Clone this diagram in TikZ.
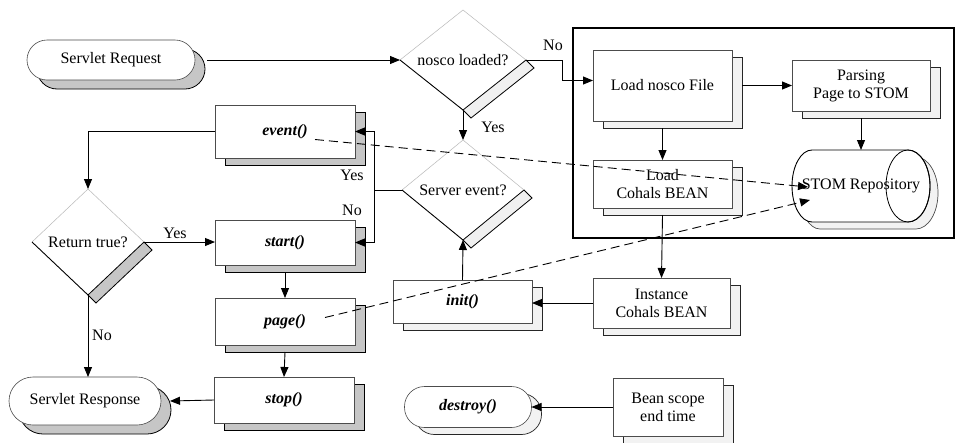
\documentclass[tikz,border=0pt]{standalone}
\usepackage{fontspec}
\setmainfont{Liberation Serif}
\usetikzlibrary{arrows.meta,shapes.geometric,shadows}

\begin{document}
\begin{tikzpicture}[x=1pt,y=-1pt,
  txt/.style={font=\fontsize{16}{18}\selectfont},
  meth/.style={font=\fontsize{16}{18}\selectfont\bfseries\itshape},
  box/.style={rectangle, draw=black!70, line width=0.6pt, fill=white,
    inner sep=0pt, outer sep=0pt, align=center},
  darkshadow/.style={drop shadow={shadow xshift=10pt, shadow yshift=-7pt,
    fill=gray!45, draw=black, line width=0.8pt, opacity=1}},
  termshadow/.style={drop shadow={shadow xshift=10pt, shadow yshift=-9pt,
    fill=gray!45, draw=black, line width=0.8pt, opacity=1}},
  lightshadow/.style={drop shadow={shadow xshift=10pt, shadow yshift=-7pt,
    fill=gray!10, draw=black!85, line width=0.7pt, opacity=1}},
  decision/.style={diamond, draw=none, inner sep=0pt, outer sep=0pt,
    font=\fontsize{16}{18}\selectfont},
  conn/.style={draw=black, line width=0.9pt},
  arr/.style={conn, -{Triangle[length=10pt,width=8pt]}},
  dasharr/.style={arr, dash pattern=on 9pt off 5pt},
  lbl/.style={font=\fontsize{16}{18}\selectfont, inner sep=1pt},
  edgefaint/.style={draw=gray!55, line width=0.5pt},
  edgedark/.style={draw=black, line width=0.9pt},
  stripdark/.style={fill=gray!45, draw=black, line width=0.8pt},
  striplight/.style={fill=gray!12, draw=black, line width=0.8pt},
]
\useasboundingbox (0,0) rectangle (957,442);
\fill[white] (0,0) rectangle (957,442);

% container of the loading stage
\draw[line width=1.8pt] (573,28) rectangle (954,238);

% terminals
\node[box, txt, termshadow, rounded corners=20pt, minimum width=168pt, minimum height=40pt]
  (req) at (111,60) {Servlet Request};
\node[box, txt, termshadow, rounded corners=24pt, minimum width=152pt, minimum height=48pt]
  (resp) at (85,401) {Servlet Response};
\node[box, meth, lightshadow, rounded corners=20pt, minimum width=127pt, minimum height=41pt]
  (destroy) at (468,407) {destroy()};

% life-cycle methods
\node[box, meth, darkshadow, minimum width=140pt, minimum height=53pt] (event) at (285,131.5) {event()};
\node[box, meth, darkshadow, minimum width=140pt, minimum height=45pt] (start) at (285,242.5) {start()};
\node[box, meth, darkshadow, minimum width=140pt, minimum height=47pt] (page)  at (285,321.5) {page()};
\node[box, meth, darkshadow, minimum width=140pt, minimum height=46pt] (stop)  at (284,400) {stop()};
\node[box, meth, lightshadow, minimum width=139pt, minimum height=43pt] (init) at (462.5,301.5) {init()};

% loading stage
\node[box, txt, lightshadow, minimum width=139pt, minimum height=71pt] (lnf) at (662.5,85.5) {Load nosco File};
\node[box, txt, lightshadow, minimum width=138pt, minimum height=51pt] (pars) at (861,85.5) {Parsing\\Page to STOM};
\node[box, txt, lightshadow, minimum width=139pt, minimum height=48pt] (lcb) at (662.5,184) {Load\\Cohals BEAN};
\node[box, txt, lightshadow, minimum width=137pt, minimum height=50pt] (inst) at (661.5,303) {Instance\\Cohals BEAN};
\node[box, txt, lightshadow, minimum width=110pt, minimum height=58pt] (bean) at (668,407) {Bean scope\\end time};

% STOM repository cylinder: shadow, body, end ellipse
\begin{scope}[shift={(8,7)}]
  \filldraw[fill=gray!10, draw=black!70, line width=0.7pt]
    (908,150) -- (812,150) .. controls (801,150) and (792,166) .. (792,186)
    .. controls (792,206) and (801,222) .. (812,222) -- (908,222)
    .. controls (920,222) and (930,206) .. (930,186)
    .. controls (930,166) and (920,150) .. (908,150) -- cycle;
\end{scope}
\filldraw[fill=white, draw=black, line width=0.9pt]
  (908,150) -- (812,150) .. controls (801,150) and (792,166) .. (792,186)
  .. controls (792,206) and (801,222) .. (812,222) -- (908,222)
  .. controls (920,222) and (930,206) .. (930,186)
  .. controls (930,166) and (920,150) .. (908,150) -- cycle;
\draw[black, line width=0.8pt] (908,186) ellipse [x radius=22, y radius=36];
\node[txt, minimum width=138pt, minimum height=72pt, inner sep=0pt, outer sep=0pt]
  (stom) at (861,186) {STOM Repository};

% decisions
\node[decision, aspect=1.26, minimum width=126pt, minimum height=100pt] (nl) at (463,60) {nosco loaded?};
\node[decision, aspect=1.22, minimum width=122pt, minimum height=100pt] (se) at (463,190) {Server event?};
\node[decision, aspect=1.06, minimum width=112pt, minimum height=106pt] (rt) at (88,242) {Return true?};

\filldraw[striplight] (nl.south) -- (nl.east) -- ([shift={(8,8)}]nl.east) -- ([shift={(8,8)}]nl.south) -- cycle;
\draw[edgefaint] (nl.west) -- (nl.north) -- (nl.east);
\draw[edgedark] (nl.west) -- (nl.south);

\filldraw[striplight] (se.south) -- (se.east) -- ([shift={(8,8)}]se.east) -- ([shift={(8,8)}]se.south) -- cycle;
\draw[edgefaint] (se.west) -- (se.north) -- (se.east);
\draw[edgedark] (se.west) -- (se.south);

\filldraw[stripdark] (rt.south) -- (rt.east) -- ([shift={(8,8)}]rt.east) -- ([shift={(8,8)}]rt.south) -- cycle;
\draw[edgefaint] (rt.west) -- (rt.north) -- (rt.east);
\draw[edgedark] (rt.west) -- (rt.south);

% control flow
\coordinate (split) at (374,190);
\draw[arr] ([xshift=12pt]req.east) -- (nl.west);
\draw[arr] (nl.east) -- ++(36,0) |- ([shift={(0,-5)}]lnf.west);
\draw[arr] (nl.south) -- (se.north);
\draw[conn] (se.west) -- (split);
\draw[arr] (split) |- (event.east);
\draw[arr] (split) |- (start.east);
\draw[arr] (event.west) -| (rt.north);
\draw[arr] (rt.east) -- (rt.east -| start.west);
\draw[arr] (rt.south) -- (rt.south |- resp.north);
\draw[arr] ([shift={(0,7)}]start.south) -- (page.north);
\draw[arr] ([shift={(0,7)}]page.south) -- (stop.north);
\draw[arr] (stop.west) -- ([xshift=9pt]resp.east);
\draw[arr] (init.north) -- (se.south);
\draw[arr] (inst.west) -- (inst.west -| init.east);
\draw[arr] ([xshift=10pt]lnf.east) -- (pars.west);
\draw[arr] ([shift={(0,7)}]lnf.south) -- (lcb.north);
\draw[arr] ([shift={(0,7)}]lcb.south) -- (inst.north);
\draw[arr] ([shift={(0,7)}]pars.south) -- (stom.north);
\draw[arr] (bean.west) -- (destroy.east);

% references to the repository
\draw[dasharr] ([shift={(30,8)}]event.center) -- ([shift={(16,1)}]stom.west);
\draw[dasharr] ([shift={(40,-4)}]page.center) -- ([shift={(18,14)}]stom.west);

% branch labels
\node[lbl] at (553,45) {No};
\node[lbl] at (493,127) {Yes};
\node[lbl] at (352,175) {Yes};
\node[lbl] at (352,210) {No};
\node[lbl] at (175,233) {Yes};
\node[lbl] at (102,335) {No};
\end{tikzpicture}
\end{document}
